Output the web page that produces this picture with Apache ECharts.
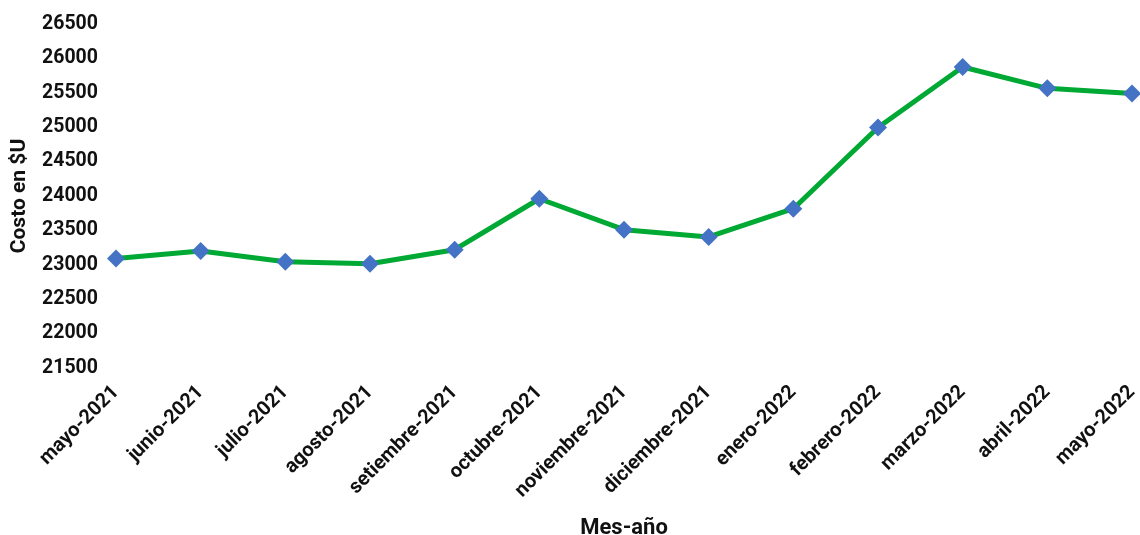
<!DOCTYPE html>
<html><head><meta charset="utf-8">
<script src="https://cdn.jsdelivr.net/npm/echarts@6/dist/echarts.min.js"></script>
<style>html,body{margin:0;padding:0;background:#fff}#c{width:1140px;height:535px}</style>
</head><body><div id="c"></div>
<script>
const categories = ['mayo-2021','junio-2021','julio-2021','agosto-2021','setiembre-2021','octubre-2021','noviembre-2021','diciembre-2021','enero-2022','febrero-2022','marzo-2022','abril-2022','mayo-2022'];
const costValues = [23090, 23200, 23045, 23015, 23220, 23960, 23510, 23405, 23815, 24995, 25875, 25565, 25490];
const yMin = 21500, yMax = 26500, yStep = 500;
const font = 'Roboto';
const chart = echarts.init(document.getElementById('c'));
chart.setOption({
  animation: false,
  grid: {left: 116, right: 8, top: 24, bottom: 167, containLabel: false, outerBoundsMode: 'none'},
  xAxis: {
    type: 'category', data: categories, boundaryGap: false,
    axisLine: {show: false}, axisTick: {show: false},
    axisLabel: {rotate: 45, color: '#111', fontFamily: font, fontWeight: 'bold', fontSize: 20, margin: 21, interval: 0},
    name: 'Mes-año', nameLocation: 'middle', nameGap: 149,
    nameTextStyle: {color: '#111', fontFamily: font, fontWeight: 'bold', fontSize: 22}
  },
  yAxis: {
    type: 'value', min: yMin, max: yMax, interval: yStep,
    axisLine: {show: false}, axisTick: {show: false}, splitLine: {show: false},
    axisLabel: {color: '#111', fontFamily: font, fontWeight: 'bold', fontSize: 19.5, margin: 18, formatter: v => String(v)},
    name: 'Costo en $U', nameLocation: 'middle', nameGap: 86,
    nameTextStyle: {color: '#111', fontFamily: font, fontWeight: 'bold', fontSize: 21}
  },
  series: [{
    type: 'line', data: costValues, symbol: 'diamond', symbolSize: 18,
    lineStyle: {color: '#00A933', width: 5},
    itemStyle: {color: '#4472C4'}
  }]
});
</script></body></html>
